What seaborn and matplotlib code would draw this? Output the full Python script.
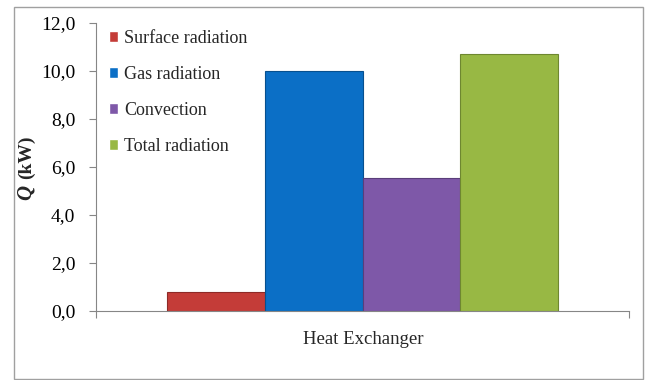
import matplotlib
matplotlib.use("Agg")
import matplotlib.pyplot as plt
import seaborn as sns
import pandas as pd
from matplotlib.patches import Rectangle
from matplotlib.ticker import FuncFormatter

categories = ["Heat Exchanger"]
series = ["Surface radiation", "Gas radiation", "Convection", "Total radiation"]
values = [0.8, 10.0, 5.55, 10.72]
colors = ["#C43C38", "#0B6FC6", "#7E58A8", "#98B844"]
edges = ["#8E2A27", "#07508F", "#5A3E7A", "#6E8730"]
yticks = [0, 2, 4, 6, 8, 10, 12]

df = pd.DataFrame({"cat": categories * len(series), "series": series, "Q": values})

sns.set_theme(style="white")
SERIF = ["Liberation Serif", "DejaVu Serif"]
plt.rcParams["font.family"] = SERIF

fig = plt.figure(figsize=(6.45, 3.8), dpi=100)
ax = fig.add_axes([96/645, 1-311/380, (629-96)/645, (311-23)/380])

sns.barplot(data=df, x="cat", y="Q", hue="series", hue_order=series,
            palette=colors, saturation=1, width=0.735, gap=0, ax=ax, legend=True)
for p, ec in zip(ax.patches, edges):
    p.set_edgecolor(ec)
    p.set_linewidth(0.8)

ax.set_ylim(0, 12)
ax.set_xlim(-0.5, 0.5)
ax.set_yticks(yticks)
ax.yaxis.set_major_formatter(FuncFormatter(lambda v, _: f"{v:.1f}".replace(".", ",")))
ax.set_xticks([-0.5, 0.5])
ax.set_xticklabels(["", ""])
ax.tick_params(axis="y", labelsize=14, length=5, width=0.8, color="#868686",
               direction="out", left=True, pad=10, labelcolor="black")
for lbl in ax.get_yticklabels():
    lbl.set_family(SERIF)
ax.tick_params(axis="x", length=5, width=0.8, color="#868686", direction="out", bottom=True)
for s in ["top", "right"]:
    ax.spines[s].set_visible(False)
for s in ["left", "bottom"]:
    ax.spines[s].set_color("#868686")
    ax.spines[s].set_linewidth(0.8)
ax.set_xlabel("")
ax.set_ylabel("")
fig.text(363/645, 1-340/380, categories[0], ha="center", va="center",
         fontsize=13.5, family=SERIF)

fig.text(26/645, 1-192/380, "Q", rotation=90, ha="center", va="center",
         fontsize=15, fontweight="bold", fontstyle="italic", family=SERIF)
fig.text(26/645, 1-157/380, "(kW)", rotation=90, ha="center", va="center",
         fontsize=14, fontweight="bold", family=SERIF)

leg = ax.legend(loc="upper left", bbox_to_anchor=(0.01, 1.002), frameon=False,
                prop={"family": SERIF, "size": 13},
                handlelength=0.55, handleheight=0.55, handletextpad=0.3,
                labelspacing=1.05, borderaxespad=0)

fig.patches.append(Rectangle((14/645, 1-379/380), (643-14)/645, (379-7)/380,
                             transform=fig.transFigure, fill=False,
                             edgecolor="#A0A0A0", linewidth=1))

fig.savefig("out.png", dpi=100)
